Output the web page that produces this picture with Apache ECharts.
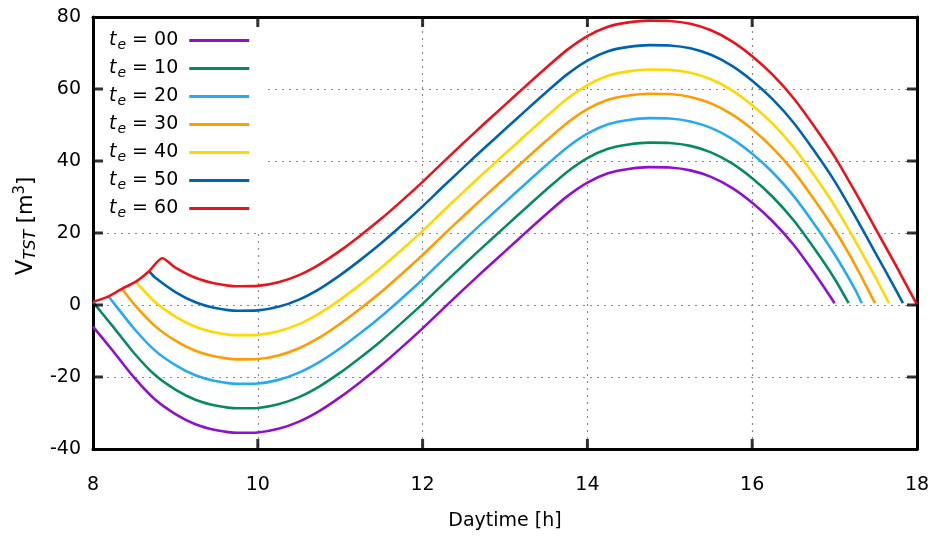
<!DOCTYPE html>
<html>
<head>
<meta charset="utf-8">
<script src="https://cdn.jsdelivr.net/npm/echarts@6/dist/echarts.min.js"></script>
<style>html,body{margin:0;padding:0;background:#fff}#c{width:935px;height:536px}</style>
</head>
<body>
<div id="c"></div>
<script>
// ---- data ----
const seriesNames = ['te = 00', 'te = 10', 'te = 20', 'te = 30', 'te = 40', 'te = 50', 'te = 60'];
const xTicks = [8, 10, 12, 14, 16, 18];
const yTicks = [-40, -20, 0, 20, 40, 60, 80];

const te00 = [[8.0,-6.0],[8.25,-13.0],[8.5,-20.2],[8.75,-26.2],[9.0,-30.3],[9.25,-33.2],[9.5,-34.8],[9.75,-35.5],[10.0,-35.4],[10.25,-34.4],[10.5,-32.4],[10.75,-29.4],[11.0,-25.6],[11.25,-21.3],[11.5,-16.7],[11.75,-11.7],[12.0,-6.5],[12.25,-1.0],[12.5,4.4],[12.75,9.7],[13.0,14.9],[13.25,20.1],[13.5,25.2],[13.75,30.1],[14.0,34.0],[14.25,36.6],[14.5,37.8],[14.75,38.3],[15.0,38.2],[15.25,37.4],[15.5,35.6],[15.75,32.6],[16.0,28.4],[16.25,23.2],[16.5,16.8],[16.75,9.0],[17.0,0.5]];
const te10 = [[8.0,0.8],[8.25,-6.2],[8.5,-13.4],[8.75,-19.4],[9.0,-23.5],[9.25,-26.4],[9.5,-28.0],[9.75,-28.7],[10.0,-28.6],[10.25,-27.6],[10.5,-25.6],[10.75,-22.6],[11.0,-18.8],[11.25,-14.5],[11.5,-9.9],[11.75,-4.9],[12.0,0.3],[12.25,5.8],[12.5,11.2],[12.75,16.5],[13.0,21.7],[13.25,26.9],[13.5,32.0],[13.75,36.9],[14.0,40.8],[14.25,43.4],[14.5,44.6],[14.75,45.1],[15.0,45.0],[15.25,44.2],[15.5,42.4],[15.75,39.4],[16.0,35.2],[16.25,30.0],[16.5,23.6],[16.75,15.8],[17.0,7.3],[17.17,0.5]];
const te20 = [[8.19,2.3],[8.25,0.6],[8.5,-6.6],[8.75,-12.6],[9.0,-16.7],[9.25,-19.6],[9.5,-21.2],[9.75,-21.9],[10.0,-21.8],[10.25,-20.8],[10.5,-18.8],[10.75,-15.8],[11.0,-12.0],[11.25,-7.7],[11.5,-3.1],[11.75,1.9],[12.0,7.1],[12.25,12.6],[12.5,18.0],[12.75,23.3],[13.0,28.5],[13.25,33.7],[13.5,38.8],[13.75,43.7],[14.0,47.6],[14.25,50.2],[14.5,51.4],[14.75,51.9],[15.0,51.8],[15.25,51.0],[15.5,49.2],[15.75,46.2],[16.0,42.0],[16.25,36.8],[16.5,30.4],[16.75,22.6],[17.0,14.1],[17.25,4.3],[17.33,0.5]];
const te30 = [[8.35,4.5],[8.5,0.2],[8.75,-5.8],[9.0,-9.9],[9.25,-12.8],[9.5,-14.4],[9.75,-15.1],[10.0,-15.0],[10.25,-14.0],[10.5,-12.0],[10.75,-9.0],[11.0,-5.2],[11.25,-0.9],[11.5,3.7],[11.75,8.7],[12.0,13.9],[12.25,19.4],[12.5,24.8],[12.75,30.1],[13.0,35.3],[13.25,40.5],[13.5,45.6],[13.75,50.5],[14.0,54.4],[14.25,57.0],[14.5,58.2],[14.75,58.7],[15.0,58.6],[15.25,57.8],[15.5,56.0],[15.75,53.0],[16.0,48.8],[16.25,43.6],[16.5,37.2],[16.75,29.4],[17.0,20.9],[17.25,11.1],[17.49,0.5]];
const te40 = [[8.52,6.4],[8.75,0.9],[9.0,-3.2],[9.25,-6.1],[9.5,-7.7],[9.75,-8.4],[10.0,-8.3],[10.25,-7.3],[10.5,-5.3],[10.75,-2.3],[11.0,1.5],[11.25,5.8],[11.5,10.4],[11.75,15.4],[12.0,20.6],[12.25,26.1],[12.5,31.5],[12.75,36.8],[13.0,42.0],[13.25,47.2],[13.5,52.3],[13.75,57.2],[14.0,61.1],[14.25,63.7],[14.5,64.9],[14.75,65.4],[15.0,65.3],[15.25,64.5],[15.5,62.7],[15.75,59.7],[16.0,55.5],[16.25,50.3],[16.5,43.9],[16.75,36.1],[17.0,27.6],[17.25,17.8],[17.5,7.5],[17.66,0.5]];
const te50 = [[8.68,9.4],[8.75,7.7],[9.0,3.6],[9.25,0.7],[9.5,-0.9],[9.75,-1.6],[10.0,-1.5],[10.25,-0.5],[10.5,1.5],[10.75,4.5],[11.0,8.3],[11.25,12.6],[11.5,17.2],[11.75,22.2],[12.0,27.4],[12.25,32.9],[12.5,38.3],[12.75,43.6],[13.0,48.8],[13.25,54.0],[13.5,59.1],[13.75,64.0],[14.0,67.9],[14.25,70.5],[14.5,71.7],[14.75,72.2],[15.0,72.1],[15.25,71.3],[15.5,69.5],[15.75,66.5],[16.0,62.3],[16.25,57.1],[16.5,50.7],[16.75,42.9],[17.0,34.4],[17.25,24.6],[17.5,14.3],[17.75,3.9],[17.83,0.5]];
const te60 = [[8.0,0.9],[8.19,2.4],[8.35,4.5],[8.52,6.5],[8.68,9.4],[8.84,13.0],[9.0,10.4],[9.25,7.5],[9.5,5.9],[9.75,5.2],[10.0,5.3],[10.25,6.3],[10.5,8.3],[10.75,11.3],[11.0,15.1],[11.25,19.4],[11.5,24.0],[11.75,29.0],[12.0,34.2],[12.25,39.7],[12.5,45.1],[12.75,50.4],[13.0,55.6],[13.25,60.8],[13.5,65.9],[13.75,70.8],[14.0,74.7],[14.25,77.3],[14.5,78.5],[14.75,79.0],[15.0,78.9],[15.25,78.1],[15.5,76.3],[15.75,73.3],[16.0,69.1],[16.25,63.9],[16.5,57.5],[16.75,49.7],[17.0,41.2],[17.25,31.4],[17.5,21.1],[17.75,10.7],[18.0,0.1]];

const seriesData = [te00, te10, te20, te30, te40, te50, te60];
const colors = ['#9010cc', '#078a62', '#28aaf0', '#ff9c00', '#ffd800', '#0063b1', '#e8141c'];

const FONT = "'DejaVu Sans', sans-serif";
const chart = echarts.init(document.getElementById('c'));

const xMin = xTicks[0], xMax = xTicks[xTicks.length - 1];
const yMin = yTicks[0], yMax = yTicks[yTicks.length - 1];
const innerX = xTicks.slice(1, -1), innerY = yTicks.slice(1, -1);

function gridLine() { return {show: true, lineStyle: {color: '#8a8a8a', width: 1.2, type: [2, 5]}}; }
function axLine() { return {show: true, onZero: false, lineStyle: {color: 'black', width: 3}}; }

// mirrored gnuplot-style inward tick marks, placed through the axes' own scales
function tickSeries(name, data, size, offset) {
  return {
    name: name, type: 'scatter', data: data, symbol: 'rect', symbolSize: size,
    symbolOffset: offset, itemStyle: {color: '#000'}, silent: true, clip: false, z: 20,
    emphasis: {disabled: true}
  };
}

const lineSeries = seriesNames.map((n, i) => ({
  name: n, type: 'line', data: seriesData[i], showSymbol: false,
  smooth: 0.25, color: colors[i], lineStyle: {width: 2.6, color: colors[i]}
}));

chart.setOption({
  animation: false,
  grid: {left: 93, right: 18, top: 17, bottom: 87},
  legend: {
    orient: 'vertical', left: 97, top: 20, align: 'right',
    padding: [9, 14, 12, 12], backgroundColor: '#fff',
    itemWidth: 60, itemHeight: 3, itemGap: 5, icon: 'rect',
    data: seriesNames,
    formatter: n => '{t|t}{e|e}{n| = ' + n.slice(-2) + '}',
    textStyle: {
      fontFamily: FONT, fontSize: 19, color: '#000', padding: [0, 6, 0, 0],
      rich: {
        t: {fontFamily: FONT, fontSize: 19, fontStyle: 'italic', lineHeight: 22},
        e: {fontFamily: FONT, fontSize: 14, fontStyle: 'italic', padding: [9, 0, 0, 1], lineHeight: 14},
        n: {fontFamily: FONT, fontSize: 19, lineHeight: 22}
      }
    }
  },
  xAxis: [{
    type: 'value', min: xMin, max: xMax, interval: 2,
    name: 'Daytime [h]', nameLocation: 'middle', nameGap: 63,
    nameTextStyle: {fontFamily: FONT, fontSize: 19, color: '#000'},
    axisLine: axLine(), axisTick: {show: false}, splitLine: gridLine(),
    axisLabel: {fontFamily: FONT, fontSize: 19, color: '#000', margin: 27}
  }, {
    type: 'value', position: 'top', min: xMin, max: xMax, interval: 2,
    axisLine: axLine(), axisTick: {show: false}, splitLine: {show: false}, axisLabel: {show: false}
  }],
  yAxis: [{
    type: 'value', min: yMin, max: yMax, interval: 20,
    name: '{v|V}{s|TST}{b| [m}{p|3}{b|]}', nameLocation: 'middle', nameGap: 53, nameRotate: 90,
    nameTextStyle: {
      fontFamily: FONT, fontSize: 21, color: '#000', padding: [0, 0, 0, 14],
      rich: {
        v: {fontFamily: FONT, fontSize: 23, lineHeight: 24},
        s: {fontFamily: FONT, fontSize: 16, fontStyle: 'italic', padding: [10, 0, 0, 0], lineHeight: 16},
        b: {fontFamily: FONT, fontSize: 21, lineHeight: 24},
        p: {fontFamily: FONT, fontSize: 15, padding: [0, 0, 11, 0], lineHeight: 15}
      }
    },
    axisLine: axLine(), axisTick: {show: false}, splitLine: gridLine(),
    axisLabel: {fontFamily: FONT, fontSize: 19, color: '#000', margin: 12}
  }, {
    type: 'value', position: 'right', min: yMin, max: yMax, interval: 20,
    axisLine: axLine(), axisTick: {show: false}, splitLine: {show: false}, axisLabel: {show: false}
  }],
  series: lineSeries.concat([
    tickSeries('_tb', innerX.map(x => [x, yMin]), [3, 10], [0, -5]),
    tickSeries('_tt', innerX.map(x => [x, yMax]), [3, 10], [0, 5]),
    tickSeries('_tl', innerY.map(y => [xMin, y]), [10, 3], [5, 0]),
    tickSeries('_tr', innerY.map(y => [xMax, y]), [10, 3], [-5, 0])
  ])
});
</script>
</body>
</html>
